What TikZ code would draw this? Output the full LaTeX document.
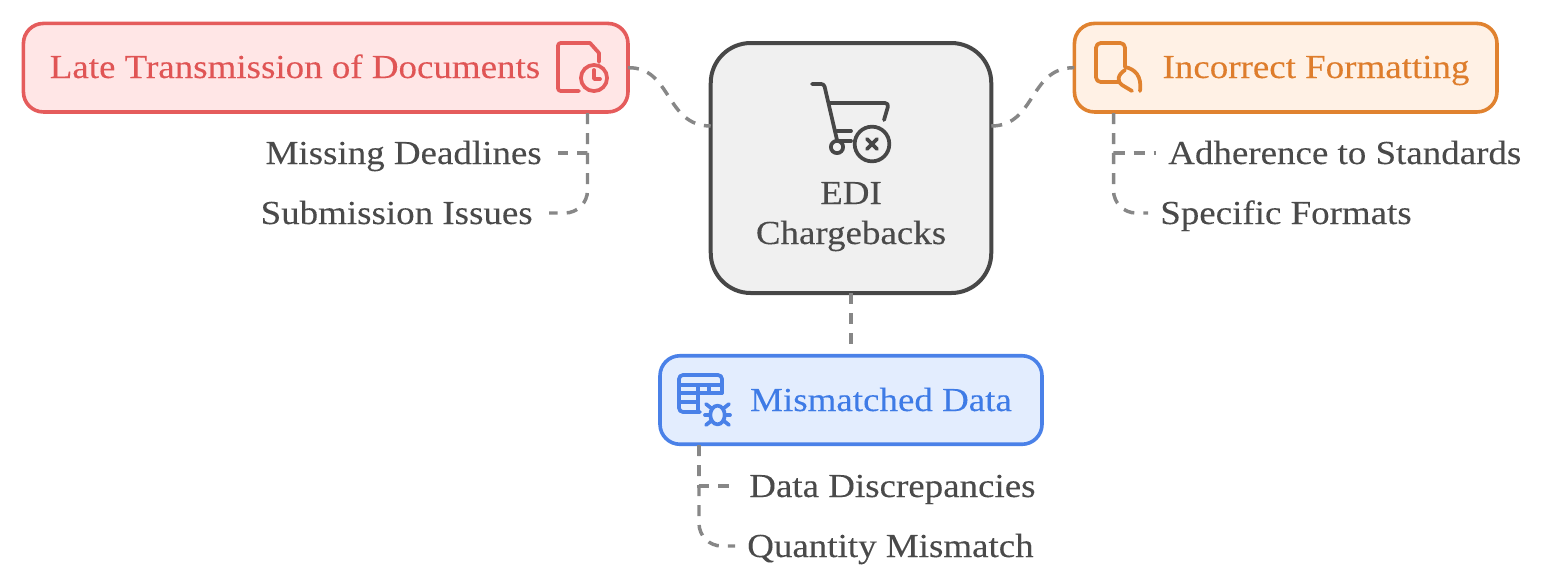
\documentclass[tikz,border=0pt]{standalone}
\usepackage{fontspec}
\setmainfont[FakeStretch=1.1,FakeBold=0.15]{Liberation Serif}
\usetikzlibrary{calc, arrows.meta}
\definecolor{lateline}{HTML}{E55C5C}
\definecolor{latefill}{HTML}{FFE6E6}
\definecolor{lateink}{HTML}{E05555}
\definecolor{formline}{HTML}{E0822F}
\definecolor{formfill}{HTML}{FFF1E5}
\definecolor{formink}{HTML}{DE7D2C}
\definecolor{dataline}{HTML}{4A81E8}
\definecolor{datafill}{HTML}{E3EDFE}
\definecolor{dataink}{HTML}{3E7BE6}
\definecolor{hubline}{HTML}{474747}
\definecolor{hubfill}{HTML}{F0F0F0}
\definecolor{linkgray}{HTML}{878787}
\definecolor{leafink}{HTML}{4A4A4A}
\tikzset{
    catbox/.style={draw,line width=2.7pt,rounded corners=15pt,outer sep=0pt,inner sep=0pt,minimum height=66.4pt},
    cattext/.style={inner sep=0pt,font=\fontsize{25.2}{30}\selectfont,text height=19pt,text depth=2.5pt},
    leaftext/.style={cattext,text=leafink,inner ysep=0pt,inner xsep=9pt},
    linkline/.style={draw=linkgray,line width=2.6pt,dash pattern=on 8.25pt off 6.75pt},
    iconline/.style={line width=2.8pt,line cap=round,line join=round},
}
\begin{document}
\begin{tikzpicture}[x=0.75pt,y=-0.75pt]
    \useasboundingbox (0,0) rectangle (1548,587);
    \node[catbox,lateline,fill=latefill,minimum width=453.4pt] (late) at (325.7,67.7) {};
    \node[catbox,formline,fill=formfill,minimum width=316.9pt] (form) at (1285.7,67.7) {};
    \node[catbox,dataline,fill=datafill,minimum width=286.5pt] (data) at (851,400) {};
    \node[catbox,hubline,fill=hubfill,line width=3pt,rounded corners=30pt,minimum width=210.4pt,minimum height=187.5pt] (hub) at (851,168) {};
    \node[cattext,text=lateink] (latelabel) at (295,67) {Late Transmission of Documents};
    \node[cattext,text=formink] (formlabel) at (1316,67) {Incorrect Formatting};
    \node[cattext,text=dataink] (datalabel) at (881,400) {Mismatched Data};
    \node[cattext,text=leafink] (hubtop) at (851,193) {EDI};
    \node[cattext,text=leafink] (hubbottom) at (851,233) {Chargebacks};
    \node[leaftext,inner xsep=12pt,anchor=east] (missing) at (558,153) {Missing Deadlines};
    \node[leaftext,inner xsep=12pt,anchor=east] (submission) at (549,213) {Submission Issues};
    \node[leaftext,anchor=west] (adherence) at (1156,153) {Adherence to Standards};
    \node[leaftext,anchor=west] (specific) at (1148,213) {Specific Formats};
    \node[leaftext,anchor=west] (discrepancies) at (737,486) {Data Discrepancies};
    \node[leaftext,anchor=west] (quantity) at (735,546) {Quantity Mismatch};
    \coordinate (latefoot) at (587.5,113);
    \coordinate (formfoot) at (1113.5,113);
    \coordinate (datafoot) at (699,445);
    \coordinate (hubleft) at ($(hub.west)+(0,-42)$);
    \coordinate (hubright) at ($(hub.east)+(0,-42)$);
    \draw[linkline] (late.east) .. controls (672,67) and (665,126) .. (hubleft);
    \draw[linkline] (hubright) .. controls (1036,126) and (1029,67) .. (form.west);
    \draw[linkline,shorten >=7.5pt] (hub.south) -- (data.north);
    \draw[linkline] (latefoot) -- (latefoot |- missing) -- (missing.east);
    \draw[linkline,rounded corners=17pt] (latefoot) -- (latefoot |- submission) -- (submission.east);
    \draw[linkline] (formfoot) -- (formfoot |- adherence) -- (adherence.west);
    \draw[linkline,rounded corners=17pt] (formfoot) -- (formfoot |- specific) -- (specific.west);
    \draw[linkline] (datafoot) -- (datafoot |- discrepancies) -- (discrepancies.west);
    \draw[linkline,rounded corners=17pt] (datafoot) -- (datafoot |- quantity) -- (quantity.west);
    \begin{scope}[iconline,draw=lateline]
        \draw (599,62) -- (599,53) -- (590,43) -- (561,43) [rounded corners=2pt] -- (558,43) -- (558,91) -- (579,91);
        \draw (594,78) circle (9.8pt);
        \draw (594,70) -- (594,79) -- (600,79);
    \end{scope}
    \begin{scope}[iconline,draw=hubline]
        \draw (812,84) -- (820,84) [rounded corners=2pt] -- (824,84) -- (837,140);
        \draw (829,103) -- (881,103) [rounded corners=3pt] -- (889,103) -- (884,120);
        \draw (837,131) -- (851,131);
        \draw (839,141) -- (851,141);
        \draw (837,147) circle (4.6pt);
        \draw (872,144) circle (13pt);
        \draw (867,139) -- (877,149);
        \draw (877,139) -- (867,149);
    \end{scope}
    \begin{scope}[iconline,draw=formline]
        \draw[rounded corners=3.5pt] (1125,67) -- (1125,43) -- (1096,43) -- (1096,82) -- (1118,82);
        \draw (1125,67) .. controls (1135,69) and (1142,76) .. (1140,91);
        \draw (1125,70) .. controls (1117,75) and (1117,82) .. (1122,85) -- (1132,91);
    \end{scope}
    \begin{scope}[iconline,draw=dataline]
        \draw[rounded corners=3pt] (700,412) -- (679,412) -- (679,375) -- (722,375) -- (722,393);
        \draw (679,385) -- (722,385);
        \draw (679,393) -- (722,393);
        \draw (679,402) -- (698,402);
        \draw (698,385) -- (698,412);
        \draw (709,385) -- (709,393);
        \draw (717.5,415) ellipse (5.4pt and 7pt);
        \draw (706,404) -- (711,408);
        \draw (729,404) -- (724,408);
        \draw (705,415) -- (710,415);
        \draw (725,415) -- (730,415);
        \draw (706,425) -- (711,421);
        \draw (729,425) -- (724,421);
    \end{scope}
\end{tikzpicture}
\end{document}
